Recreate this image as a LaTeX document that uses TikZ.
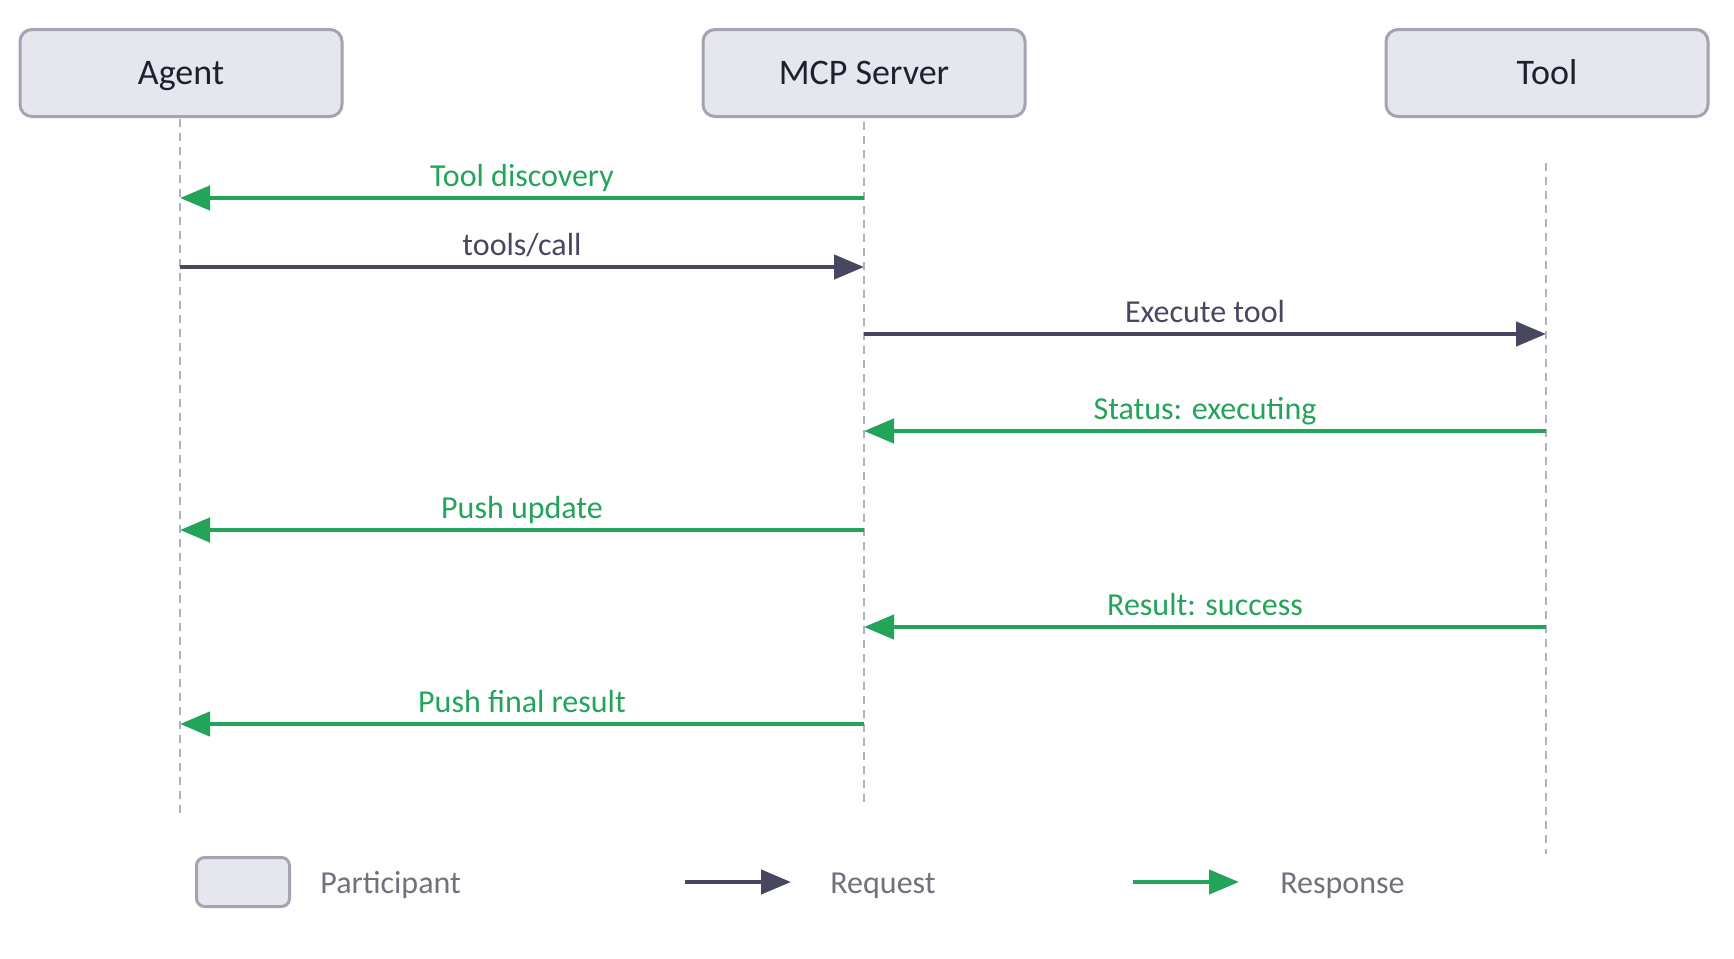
\documentclass[tikz,border=0pt]{standalone}
\usepackage{fontspec}
\setmainfont{Carlito}
\usetikzlibrary{arrows.meta}

\definecolor{respgreen}{HTML}{22A45A}
\definecolor{reqslate}{HTML}{474760}
\definecolor{boxfill}{HTML}{E6E6EE}
\definecolor{boxline}{HTML}{A3A3B3}
\definecolor{lifegray}{HTML}{B0B0C0}
\definecolor{legendgray}{HTML}{70707E}
\definecolor{labeldark}{HTML}{1F1F2E}

\tikzset{
  participant/.style={draw=boxline, line width=1.5pt, fill=boxfill, rounded corners=6pt,
    minimum width=161pt, minimum height=43.5pt, text=labeldark,
    text height=2.6ex, text depth=0.1ex,
    font=\fontsize{18}{21}\selectfont},
  lifeline/.style={draw=lifegray, line width=1.1pt, dash pattern=on 4pt off 3pt},
  request/.style={draw=reqslate, line width=2.2pt, -{Triangle[length=15pt,width=12pt]}},
  response/.style={draw=respgreen, line width=2.2pt, -{Triangle[length=15pt,width=12pt]}},
  msglabel/.style={midway, anchor=base, yshift=6pt, inner sep=0pt,
    font=\fontsize{16}{19}\selectfont},
  legendtext/.style={anchor=base west, inner sep=0pt, text=legendgray,
    font=\fontsize{16}{19}\selectfont}
}

\begin{document}
\begin{tikzpicture}[x=0.5pt, y=-0.5pt]
    % --- 1. Canvas ---
    \useasboundingbox (0,0) rectangle (1734,958);

    % --- 2. Lifelines ---
    \coordinate (agentTop) at (180,119);
    \coordinate (agentEnd) at (180,813);
    \coordinate (mcpTop) at (864,108);
    \coordinate (mcpEnd) at (864,802);
    \coordinate (toolTop) at (1546,163);
    \coordinate (toolEnd) at (1546,854);
    \draw[lifeline] (agentTop) -- (agentEnd);
    \draw[lifeline] (mcpTop) -- (mcpEnd);
    \draw[lifeline] (toolTop) -- (toolEnd);

    % --- 3. Participants ---
    \node[participant] (agent) at (181,73) {Agent};
    \node[participant] (mcp) at (864,73) {MCP Server};
    \node[participant] (tool) at (1547,73) {Tool};

    % --- 4. Message points on each lifeline ---
    \foreach \n/\y in {1/198,2/267,3/334,4/431,5/530,6/627,7/724} {
        \coordinate (a\n) at (180,\y);
        \coordinate (m\n) at (864,\y);
        \coordinate (t\n) at (1546,\y);
    }

    % --- 5. Messages ---
    \draw[response] (m1) -- (a1) node[msglabel, text=respgreen] {Tool discovery};
    \draw[request] (a2) -- (m2) node[msglabel, text=reqslate] {tools/call};
    \draw[request] (m3) -- (t3) node[msglabel, text=reqslate] {Execute tool};
    \draw[response] (t4) -- (m4) node[msglabel, text=respgreen] {Status: executing};
    \draw[response] (m5) -- (a5) node[msglabel, text=respgreen] {Push update};
    \draw[response] (t6) -- (m6) node[msglabel, text=respgreen] {Result: success};
    \draw[response] (m7) -- (a7) node[msglabel, text=respgreen] {Push final result};

    % --- 6. Legend ---
    \node[draw=boxline, line width=1.5pt, fill=boxfill, rounded corners=4pt,
          minimum width=46.5pt, minimum height=24.5pt] (legBox) at (243,882) {};
    \node[legendtext] (legBoxTxt) at (320,893) {Participant};

    \coordinate (reqFrom) at (685,882);
    \coordinate (reqTo) at (791,882);
    \draw[request] (reqFrom) -- (reqTo);
    \node[legendtext] (legReqTxt) at (830,893) {Request};

    \coordinate (respFrom) at (1133,882);
    \coordinate (respTo) at (1239,882);
    \draw[response] (respFrom) -- (respTo);
    \node[legendtext] (legRespTxt) at (1280,893) {Response};
\end{tikzpicture}
\end{document}
